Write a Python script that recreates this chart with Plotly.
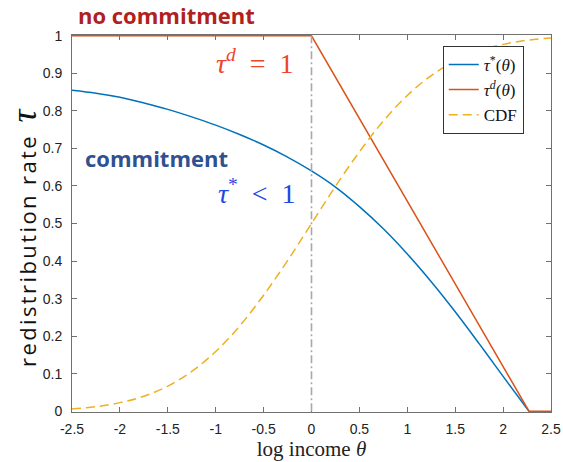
import plotly.graph_objects as go

# ---- data ----
theta_star = [-2.5, -2.25, -2.0, -1.75, -1.5, -1.25, -1.0, -0.75, -0.5, -0.25,
              0.0, 0.25, 0.5, 0.75, 1.0, 1.25, 1.5, 1.75, 2.0, 2.27]
tau_star = [0.855, 0.847, 0.836, 0.821, 0.804, 0.784, 0.762, 0.737, 0.709, 0.677,
            0.640, 0.597, 0.545, 0.486, 0.419, 0.345, 0.265, 0.180, 0.093, 0.0]

theta_d = [-2.5, 0.0, 2.27, 2.5]
tau_d = [1.0, 1.0, 0.0, 0.0]

theta_cdf = [-2.5, -2.25, -2.0, -1.75, -1.5, -1.25, -1.0, -0.75, -0.5, -0.25,
             0.0, 0.25, 0.5, 0.75, 1.0, 1.25, 1.5, 1.75, 2.0, 2.25, 2.5]
cdf = [0.006, 0.012, 0.023, 0.040, 0.067, 0.106, 0.159, 0.227, 0.309, 0.401,
       0.5, 0.599, 0.691, 0.773, 0.841, 0.894, 0.933, 0.960, 0.977, 0.988, 0.994]

vline_x = [0.0, 0.0]
vline_y = [0.0, 1.0]

x_ticks = [-2.5, -2.0, -1.5, -1.0, -0.5, 0.0, 0.5, 1.0, 1.5, 2.0, 2.5]
x_tick_labels = ["-2.5", "-2", "-1.5", "-1", "-0.5", "0", "0.5", "1", "1.5", "2", "2.5"]
y_ticks = [0, 0.1, 0.2, 0.3, 0.4, 0.5, 0.6, 0.7, 0.8, 0.9, 1.0]
y_tick_labels = ["0", "0.1", "0.2", "0.3", "0.4", "0.5", "0.6", "0.7", "0.8", "0.9", "1"]

BLUE = "#0072BD"
RED = "#D95319"
YEL = "#EDB120"
SERIF = "Liberation Serif"

fig = go.Figure()
fig.add_trace(go.Scatter(x=theta_star, y=tau_star, mode="lines",
                         line=dict(color=BLUE, width=1.5, shape="spline", smoothing=1.0),
                         name="<i>τ</i><sup>*</sup>(<i>θ</i>)"))
fig.add_trace(go.Scatter(x=theta_d, y=tau_d, mode="lines",
                         line=dict(color=RED, width=1.5),
                         name="<i>τ</i><sup><i>d</i></sup>(<i>θ</i>)"))
fig.add_trace(go.Scatter(x=theta_cdf, y=cdf, mode="lines",
                         line=dict(color=YEL, width=1.5, dash="9px,5px", shape="spline", smoothing=1.0),
                         name="CDF"))
fig.add_trace(go.Scatter(x=vline_x, y=vline_y, mode="lines", showlegend=False,
                         line=dict(color="#A8A8A8", width=1.6, dash="8px,3px,2px,3px")))

axis_common = dict(showgrid=False, zeroline=False, showline=True, linecolor="#707070",
                   linewidth=1, mirror="ticks", ticks="inside", ticklen=5,
                   tickcolor="#707070", tickwidth=1, layer="below traces", automargin=False,
                   tickfont=dict(family="Liberation Sans", size=14, color="#222"))

fig.update_layout(
    width=563, height=462,
    margin=dict(l=72, r=12, t=35, b=50, autoexpand=False),
    paper_bgcolor="white", plot_bgcolor="white",
    xaxis=dict(range=[-2.5, 2.5], tickvals=x_ticks, ticktext=x_tick_labels,
               ticklabelstandoff=4,
               title=dict(text="log income <i>θ</i>", font=dict(family=SERIF, size=21, color="#222"),
                          standoff=4),
               **axis_common),
    yaxis=dict(range=[-0.002, 1.002], tickvals=y_ticks, ticktext=y_tick_labels,
               ticklabelstandoff=6, **axis_common),
    legend=dict(x=0.774, y=0.971, xanchor="left", yanchor="top",
                bgcolor="white", bordercolor="#333", borderwidth=1,
                font=dict(family=SERIF, size=17, color="#111"),
                tracegroupgap=0, itemwidth=30),
    showlegend=True,
)

ann = [
    dict(text="<b>no commitment</b>", x=76, y=15, font=dict(family="Open Sans", size=22, color="#B0201C")),
    dict(text="<b>commitment</b>", x=83, y=158, font=dict(family="Open Sans", size=22, color="#2F5191")),
    dict(text="<i>τ</i><sup><i>d</i></sup>&nbsp;&nbsp;=&nbsp;&nbsp;1", x=214, y=61,
         font=dict(family=SERIF, size=28, color="#EB452C")),
    dict(text="<i>τ</i><sup>*</sup>&nbsp;&nbsp;&lt;&nbsp;&nbsp;1", x=216, y=191,
         font=dict(family=SERIF, size=28, color="#1E47E6")),
]
W, H, L, B, T = 563, 462, 72, 50, 35
pw, ph = W - L - 12, H - T - B
for a in ann:
    fig.add_annotation(text=a["text"], xref="paper", yref="paper",
                       x=(a["x"] - L) / pw, y=(H - B - a["y"]) / ph,
                       xanchor="left", yanchor="middle", showarrow=False, font=a["font"])

fig.add_annotation(
    text="<span style='letter-spacing:2.4px'>redistribution rate</span>&nbsp;&nbsp;"
         "<span style='font-family:Liberation Serif;font-size:36px'><i>τ</i></span>",
    xref="paper", yref="paper", x=(24 - L) / pw, y=(H - B - 238) / ph,
    xanchor="center", yanchor="middle", textangle=-90, showarrow=False,
    font=dict(family="Open Sans", size=22, color="#111"))

fig.write_html("out.html")
